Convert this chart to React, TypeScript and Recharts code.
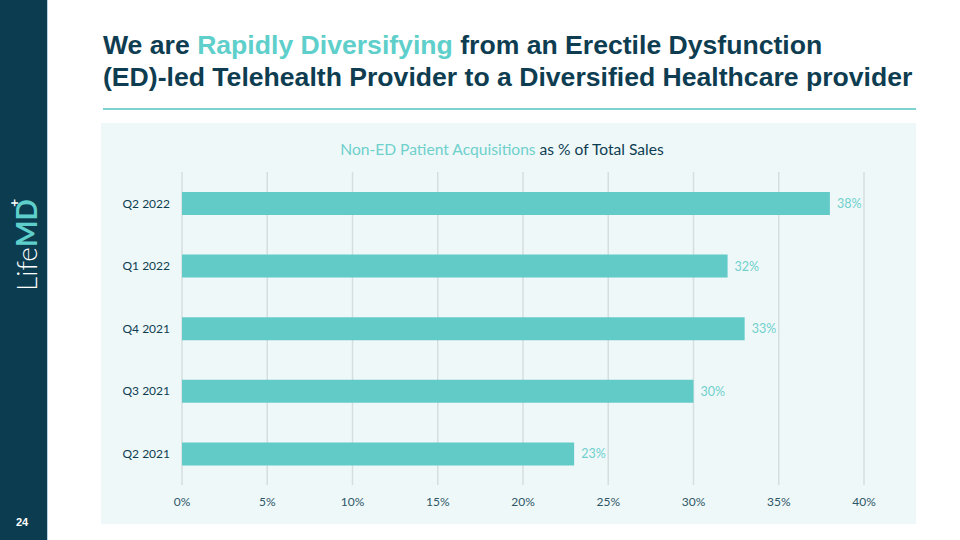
import { BarChart, Bar, XAxis, YAxis, CartesianGrid, LabelList } from "recharts"

const quarters = ["Q2 2022", "Q1 2022", "Q4 2021", "Q3 2021", "Q2 2021"]
const shares = [38, 32, 33, 30, 23]
const xTicks = [0, 5, 10, 15, 20, 25, 30, 35, 40]

const data = quarters.map((q, i) => ({ quarter: q, share: shares[i] }))

const DARK = "#0e3d51"
const TEAL = "#62cbc8"
const LABEL_TEAL = "#6fd0cc"
const TICK = "#2f5666"

export default function App() {
  return (
    <div
      style={{
        position: "absolute",
        left: 0,
        top: 0,
        width: 960,
        height: 540,
        background: "#ffffff",
        overflow: "hidden",
        fontFamily: "Lato, sans-serif",
      }}
    >
      {/* sidebar */}
      <div style={{ position: "absolute", left: 0, top: 0, width: 47, height: 540, background: "#0b3c50", borderRight: "1px solid #b9d3e6" }} />
      <svg width={48} height={540} style={{ position: "absolute", left: 0, top: 0 }}>
        <g transform="translate(37, 291) rotate(-90)">
          <text x={0} y={0} fontFamily="Lato, sans-serif" fontSize={28}>
            <tspan fill="#ffffff" fontWeight={300}>Life</tspan>
            <tspan fill="#5ecfca" fontWeight={700}>MD</tspan>
          </text>
          <text x={84} y={-18} fontFamily="Lato, sans-serif" fontSize={14} fontWeight={700} fill="#ffffff">+</text>
        </g>
        <text x={22} y={526} textAnchor="middle" fontFamily="'Liberation Sans', Arial, sans-serif" fontSize={11} fontWeight={700} fill="#ffffff">24</text>
      </svg>

      {/* title */}
      <div
        style={{
          position: "absolute",
          left: 103,
          top: 29,
          width: 840,
          fontFamily: "'Liberation Sans', Arial, sans-serif",
          fontWeight: 700,
          fontSize: 26.6,
          lineHeight: "32px",
          color: DARK,
          whiteSpace: "nowrap",
        }}
      >
        <div>
          We are <span style={{ color: "#5ecfca" }}>Rapidly Diversifying</span> from an Erectile Dysfunction
        </div>
        <div>(ED)-led Telehealth Provider to a Diversified Healthcare provider</div>
      </div>
      <div style={{ position: "absolute", left: 103, top: 108, width: 813, height: 2, background: "#7dd3d0" }} />

      {/* panel */}
      <div style={{ position: "absolute", left: 101, top: 123, width: 815, height: 401, background: "#eef8f9" }} />
      <div
        style={{
          position: "absolute",
          left: 101,
          top: 140,
          width: 802,
          textAlign: "center",
          fontSize: 15.6,
          color: DARK,
        }}
      >
        <span style={{ color: "#6fd0cc" }}>Non-ED Patient Acquisitions</span> as % of Total Sales
      </div>

      <div style={{ position: "absolute", left: 101, top: 123 }}>
        <BarChart
          width={815}
          height={401}
          data={data}
          layout="vertical"
          margin={{ top: 49, right: 52, bottom: 9, left: 0 }}
        >
          <CartesianGrid horizontal={false} stroke="#d6dedf" strokeWidth={1.5} />
          <XAxis
            type="number"
            domain={[0, 40]}
            ticks={xTicks}
            tickFormatter={(v: number) => `${v}%`}
            axisLine={false}
            tickLine={false}
            tickMargin={6}
            height={30}
            tick={{ fill: TICK, fontSize: 12, fontFamily: "Lato, sans-serif" }}
          />
          <YAxis
            type="category"
            dataKey="quarter"
            width={81}
            axisLine={false}
            tickLine={false}
            tickMargin={6}
            tick={{ fill: DARK, fontSize: 12, fontFamily: "Lato, sans-serif" }}
          />
          <Bar dataKey="share" fill={TEAL} barSize={23} isAnimationActive={false}>
            <LabelList
              dataKey="share"
              position="right"
              offset={7}
              formatter={(v: number) => `${v}%`}
              style={{ fill: LABEL_TEAL, fontSize: 12.5, fontFamily: "Lato, sans-serif" }}
            />
          </Bar>
        </BarChart>
      </div>
    </div>
  )
}
